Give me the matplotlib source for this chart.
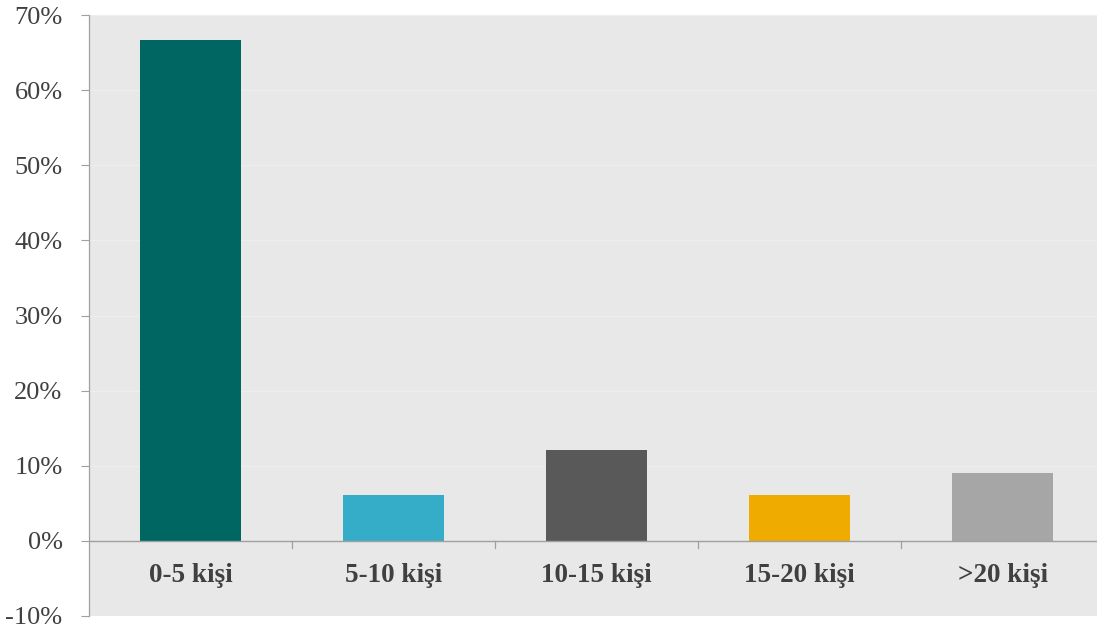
import matplotlib
matplotlib.use("Agg")
import matplotlib.pyplot as plt
from matplotlib.ticker import FuncFormatter

categories = ["0-5 kişi", "5-10 kişi", "10-15 kişi", "15-20 kişi", ">20 kişi"]
values = [66.7, 6.1, 12.1, 6.1, 9.1]
colors = ["#006661", "#36adc8", "#595959", "#f0ab00", "#a6a6a6"]
yticks = [-10, 0, 10, 20, 30, 40, 50, 60, 70]

plt.rcParams["font.family"] = ["Liberation Serif", "DejaVu Serif"]

fig = plt.figure(figsize=(10.97, 6.30), dpi=100)
ax = fig.add_axes([89 / 1097, 14 / 630, (1104 - 89) / 1097, 601 / 630])
ax.set_facecolor("#e8e8e8")

x = list(range(len(categories)))
ax.bar(x, values, width=0.5, color=colors, zorder=3)

ax.set_xlim(-0.5, len(categories) - 0.5)
ax.set_ylim(-10, 70)
ax.set_yticks(yticks)
ax.yaxis.set_major_formatter(FuncFormatter(lambda v, _: f"{v:.0f}%"))
ax.tick_params(axis="y", labelsize=19, labelcolor="#404040", color="#a0a0a0",
               length=6, width=0.8, pad=13)
ax.grid(axis="y", color="#eeeeee", linewidth=0.8, zorder=0)

ax.set_xticks([])
for s in ["top", "right", "bottom"]:
    ax.spines[s].set_visible(False)
ax.spines["left"].set_color("#a0a0a0")
ax.spines["left"].set_linewidth(0.9)

# zero line with category boundary ticks
ax.axhline(0, color="#a0a0a0", linewidth=1.0, zorder=4)
for b in range(1, len(categories)):
    ax.plot([b - 0.5, b - 0.5], [0, -1.0], color="#a0a0a0",
            linewidth=0.9, zorder=4, clip_on=False)

for i, c in enumerate(categories):
    ax.text(i, -4.6, c, ha="center", va="center", fontsize=19.5,
            fontweight="bold", color="#404040")

fig.savefig("out.png", dpi=100)
